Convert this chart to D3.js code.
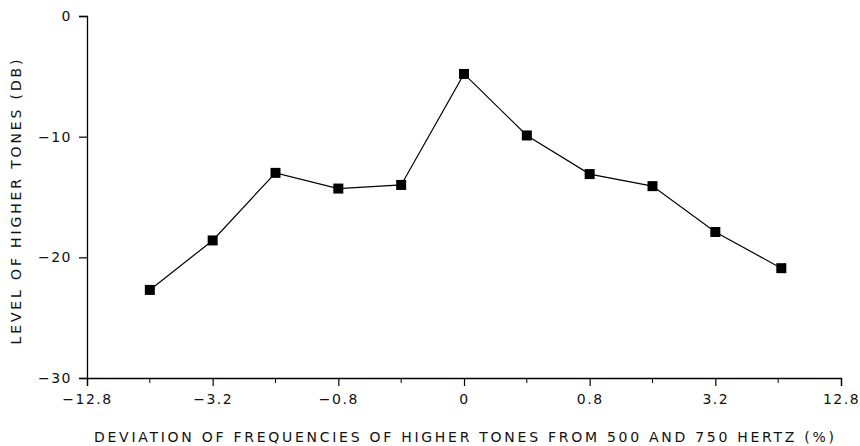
<!DOCTYPE html>
<html>
<head>
<meta charset="utf-8">
<script src="https://cdn.jsdelivr.net/npm/d3@7"></script>
<style>
  body { margin: 0; background: #fff; }
  svg { display: block; font-family: "DejaVu Sans", sans-serif; }
  .tick text { font-size: 14px; letter-spacing: 1.5px; fill: #111; }
  .axis-title { font-size: 14px; fill: #111; }
</style>
</head>
<body>
<svg id="chart"></svg>
<script>
// x positions are half-steps on a doubling scale; 0 sits in the middle
const tickPos = [0, 2, 4, 6, 8, 10, 12];
const tickLabels = ["\u221212.8", "\u22123.2", "\u22120.8", "0", "0.8", "3.2", "12.8"];
const minorPos = [1, 3, 5, 7, 9, 11];

const pointPos = [1, 2, 3, 4, 5, 6, 7, 8, 9, 10, 11.05];
const levels = [-22.7, -18.6, -13.0, -14.3, -14.0, -4.8, -9.9, -13.1, -14.1, -17.9, -20.9];

const yTicks = [0, -10, -20, -30];
const yTickLabels = ["0", "\u221210", "\u221220", "\u221230"];

const width = 860, height = 446;
const margin = { top: 16, right: 19, bottom: 68, left: 87 };

const svg = d3.select("#chart")
  .attr("width", width)
  .attr("height", height);

const x = d3.scaleLinear()
  .domain([0, 12])
  .range([margin.left, width - margin.right]);

const y = d3.scaleLinear()
  .domain([-30, 0])
  .range([height - margin.bottom, margin.top]);

// x axis with major labelled ticks
const xAxis = svg.append("g")
  .attr("transform", `translate(0,${y(-30)})`)
  .call(d3.axisBottom(x)
    .tickValues(tickPos)
    .tickSize(8)
    .tickPadding(8)
    .tickFormat((d, i) => tickLabels[i]));

// minor ticks
xAxis.selectAll("line.minor")
  .data(minorPos)
  .enter().append("line")
  .attr("class", "minor")
  .attr("x1", d => x(d)).attr("x2", d => x(d))
  .attr("y1", 0).attr("y2", 5)
  .attr("stroke", "#000");

svg.append("g")
  .attr("transform", `translate(${x(0)},0)`)
  .call(d3.axisLeft(y)
    .tickValues(yTicks)
    .tickSize(8)
    .tickPadding(7)
    .tickFormat((d, i) => yTickLabels[i]));

svg.selectAll(".domain").attr("stroke", "#000").attr("stroke-width", 1.3);
svg.selectAll(".tick line").attr("stroke", "#000").attr("stroke-width", 1.2);
svg.selectAll("g").attr("font-family", null).attr("font-size", null);

// titles
svg.append("text")
  .attr("class", "axis-title")
  .attr("x", (x(0) + x(12)) / 2)
  .attr("y", 442)
  .attr("text-anchor", "middle")
  .attr("textLength", 740)
  .attr("lengthAdjust", "spacing")
  .text("DEVIATION OF FREQUENCIES OF HIGHER TONES FROM 500 AND 750 HERTZ (%)");

svg.append("text")
  .attr("class", "axis-title")
  .attr("transform", `translate(21,${(y(0) + y(-30)) / 2 + 5}) rotate(-90)`)
  .attr("text-anchor", "middle")
  .attr("textLength", 285)
  .attr("lengthAdjust", "spacing")
  .text("LEVEL OF HIGHER TONES (DB)");

// line + markers
const data = pointPos.map((p, i) => ({ p: p, v: levels[i] }));

svg.append("path")
  .datum(data)
  .attr("fill", "none")
  .attr("stroke", "#000")
  .attr("stroke-width", 1.2)
  .attr("d", d3.line().x(d => x(d.p)).y(d => y(d.v)));

const s = 10;
svg.selectAll("rect.pt")
  .data(data)
  .enter().append("rect")
  .attr("class", "pt")
  .attr("x", d => x(d.p) - s / 2)
  .attr("y", d => y(d.v) - s / 2)
  .attr("width", s)
  .attr("height", s)
  .attr("fill", "#000");
</script>
</body>
</html>
